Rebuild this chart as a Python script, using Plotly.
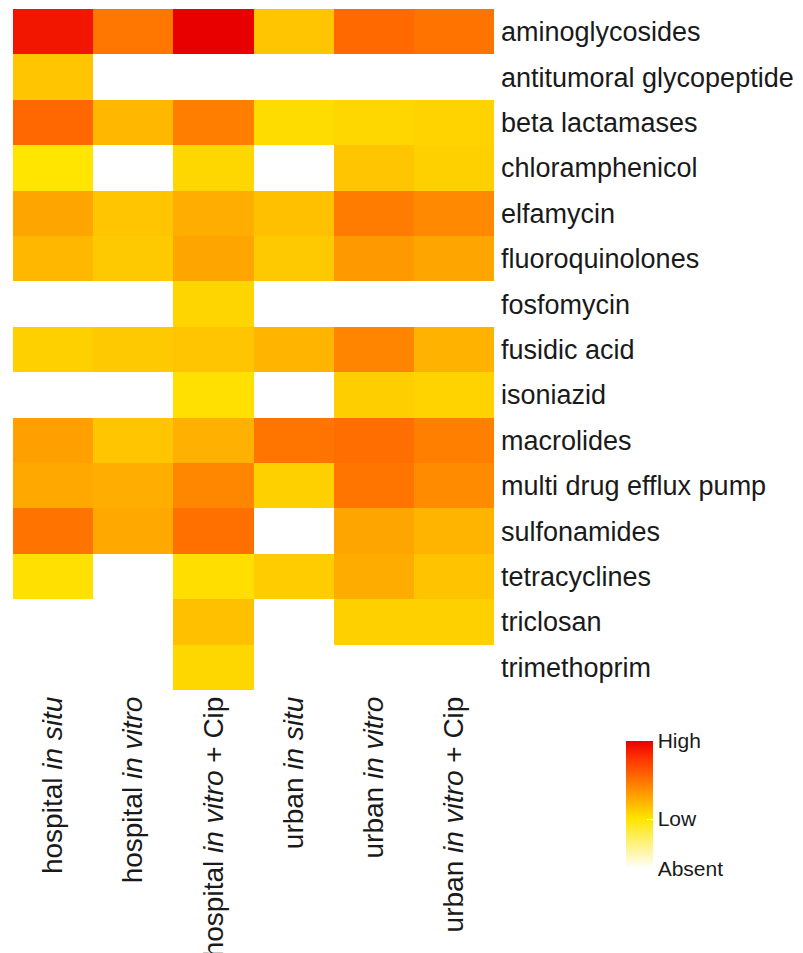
import plotly.graph_objects as go

samples = ["hospital <i>in situ</i>", "hospital <i>in vitro</i>", "hospital <i>in vitro</i> + Cip",
           "urban <i>in situ</i>", "urban <i>in vitro</i>", "urban <i>in vitro</i> + Cip"]

classes = ["aminoglycosides", "antitumoral glycopeptide", "beta lactamases", "chloramphenicol",
           "elfamycin", "fluoroquinolones", "fosfomycin", "fusidic acid", "isoniazid", "macrolides",
           "multi drug efflux pump", "sulfonamides", "tetracyclines", "triclosan", "trimethoprim"]

# relative abundance score: 0 = Low, 1 = High, None = Absent
hospital_in_situ = [0.91, 0.14, 0.55, 0.00, 0.28, 0.20, None, 0.09, None, 0.30, 0.26, 0.50, 0.02, None, None]
hospital_in_vitro = [0.48, None, 0.20, None, 0.14, 0.12, None, 0.12, None, 0.14, 0.24, 0.26, None, None, None]
hospital_in_vitro_cip = [1.00, None, 0.45, 0.06, 0.24, 0.28, 0.07, 0.14, 0.02, 0.23, 0.41, 0.51, 0.03, 0.16, 0.06]
urban_in_situ = [0.14, None, 0.04, None, 0.16, 0.12, None, 0.21, None, 0.49, 0.09, None, 0.11, None, None]
urban_in_vitro = [0.54, None, 0.06, 0.14, 0.46, 0.33, None, 0.42, 0.10, 0.52, 0.49, 0.28, 0.25, 0.09, None]
urban_in_vitro_cip = [0.50, None, 0.08, 0.09, 0.40, 0.28, None, 0.22, 0.08, 0.44, 0.39, 0.21, 0.15, 0.09, None]

columns = [hospital_in_situ, hospital_in_vitro, hospital_in_vitro_cip,
           urban_in_situ, urban_in_vitro, urban_in_vitro_cip]
z = [[col[i] for col in columns] for i in range(len(classes))]

ABSENT = -0.64
colorscale = [
    [0.0, "rgb(255,255,255)"],
    [0.39, "rgb(255,229,0)"],
    [0.878, "rgb(255,46,0)"],
    [1.0, "rgb(232,0,0)"],
]

font_family = "Liberation Sans, Arial, Helvetica, sans-serif"

fig = go.Figure(go.Heatmap(
    z=z, x=samples, y=classes,
    zmin=ABSENT, zmax=1.0,
    colorscale=colorscale,
    hoverongaps=False,
    colorbar=dict(
        x=1.274, xanchor="left", xpad=0,
        y=-0.169, yanchor="middle", ypad=0,
        thickness=27, thicknessmode="pixels",
        len=128, lenmode="pixels",
        outlinewidth=0,
        tickvals=[ABSENT, 0, 1], ticktext=["Absent", "Low", "High"],
        ticks="inside", ticklen=6, tickcolor="white", tickwidth=1,
        tickfont=dict(size=21, color="#1a1a1a", family=font_family),
    ),
))

fig.update_layout(
    width=803, height=953,
    margin=dict(l=5, r=317, t=1, b=271, autoexpand=False),
    paper_bgcolor="white", plot_bgcolor="white",
    font=dict(family=font_family, color="#1a1a1a"),
)
fig.update_xaxes(
    tickangle=-90, showgrid=False, zeroline=False, ticks="", automargin=False,
    tickfont=dict(size=28, color="#1a1a1a"), ticklabelstandoff=0,
)
fig.update_yaxes(
    side="right", autorange="reversed", showgrid=False, zeroline=False, ticks="", automargin=False,
    tickfont=dict(size=27, color="#1a1a1a"), ticklabelstandoff=6,
)

fig.write_html("out.html")
